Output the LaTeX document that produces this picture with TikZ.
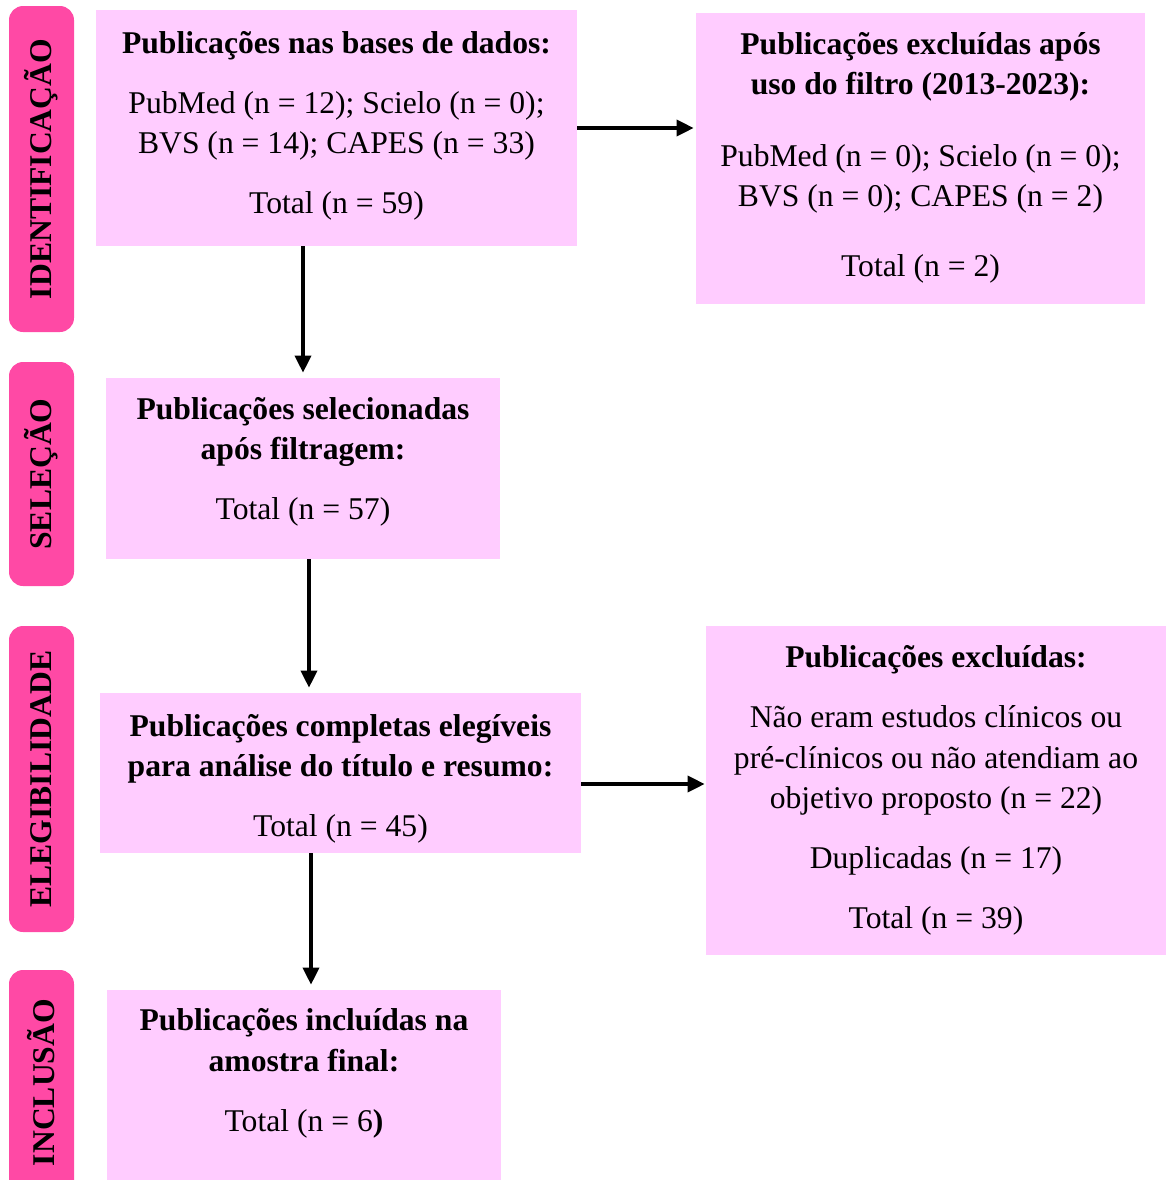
\documentclass[tikz,border=0pt]{standalone}
\usepackage{fontspec}
\setmainfont{Liberation Serif}
\usepackage{tikz}
\usetikzlibrary{arrows.meta, positioning, calc}
\definecolor{corCaixa}{RGB}{255, 204, 255}
\definecolor{corFase}{RGB}{255, 73, 165}
\newcommand{\folga}[1]{\rule[-#1]{0pt}{#1}}

\begin{document}
\begin{tikzpicture}[
    caixa/.style={
        fill=corCaixa, inner sep=0pt, align=center,
        font=\fontsize{18}{22.8}\selectfont
    },
    fase/.style={
        fill=corFase, rounded corners=8pt, rotate=90,
        minimum height=1.3cm, inner sep=0pt,
        font=\fontsize{18}{22.8}\selectfont\bfseries
    },
    seta/.style={-{Triangle[length=0.34cm, width=0.32cm]}, line width=2pt}
]
\useasboundingbox (0,0) rectangle (23.32,-23.6);

% fases
\node[fase, minimum width=6.52cm] (F1) at (0.83,-3.38) {IDENTIFICAÇÃO};
\node[fase, minimum width=4.48cm] (F2) at (0.83,-9.48) {SELEÇÃO};
\node[fase, minimum width=6.12cm] (F3) at (0.83,-15.58) {ELEGIBILIDADE};
\node[fase, minimum width=4.5cm] (F4) at (0.83,-21.65) {INCLUSÃO};

% caixas
\node[caixa, minimum width=9.62cm, minimum height=4.72cm] (B1) at (6.73,-2.56)
    {\textbf{Publicações nas bases de dados:}\\[0.4cm]
     PubMed (n = 12); Scielo (n = 0);\\
     BVS (n = 14); CAPES (n = 33)\\[0.4cm]
     Total (n = 59)\folga{0.22cm}};

\node[caixa, minimum width=8.98cm, minimum height=5.82cm] (B2) at (18.41,-3.17)
    {\textbf{Publicações excluídas após}\\
     \textbf{uso do filtro (2013-2023):}\\[0.64cm]
     PubMed (n = 0); Scielo (n = 0);\\
     BVS (n = 0); CAPES (n = 2)\\[0.6cm]
     Total (n = 2)\folga{0.16cm}};

\node[caixa, minimum width=7.88cm, minimum height=3.62cm] (B3) at (6.06,-9.37)
    {\textbf{Publicações selecionadas}\\
     \textbf{após filtragem:}\\[0.4cm]
     Total (n = 57)\folga{0.4cm}};

\node[caixa, minimum width=9.62cm, minimum height=3.2cm] (B4) at (6.81,-15.46)
    {\rule{0pt}{0.66cm}\textbf{Publicações completas elegíveis}\\
     \textbf{para análise do título e resumo:}\\[0.4cm]
     Total (n = 45)};

\node[caixa, minimum width=9.2cm, minimum height=6.58cm] (B5) at (18.72,-15.81)
    {\textbf{Publicações excluídas:}\\[0.4cm]
     Não eram estudos clínicos ou\\
     pré-clínicos ou não atendiam ao\\
     objetivo proposto (n = 22)\\[0.4cm]
     Duplicadas (n = 17)\\[0.4cm]
     Total (n = 39)\folga{0.14cm}};

\node[caixa, minimum width=7.88cm, minimum height=4cm] (B6) at (6.08,-21.8)
    {\textbf{Publicações incluídas na}\\
     \textbf{amostra final:}\\[0.4cm]
     Total (n = 6\textbf{)}\folga{0.8cm}};

% setas
\coordinate (s4) at ([yshift=-0.22cm]B4.east);

\draw[seta] (B1.south -| B3.north) -- ([yshift=0.1cm]B3.north);
\draw[seta] ([xshift=0.12cm]B3.south) -- ([xshift=0.12cm, yshift=0.1cm]B3.south |- B4.north);
\draw[seta] ([xshift=0.14cm]B4.south -| B6.north) -- ([xshift=0.14cm, yshift=0.1cm]B6.north);
\draw[seta] (B1.east) -- ([xshift=-0.04cm]B2.west |- B1.east);
\draw[seta] (s4) -- ([xshift=-0.02cm]B5.west |- s4);

\end{tikzpicture}
\end{document}
